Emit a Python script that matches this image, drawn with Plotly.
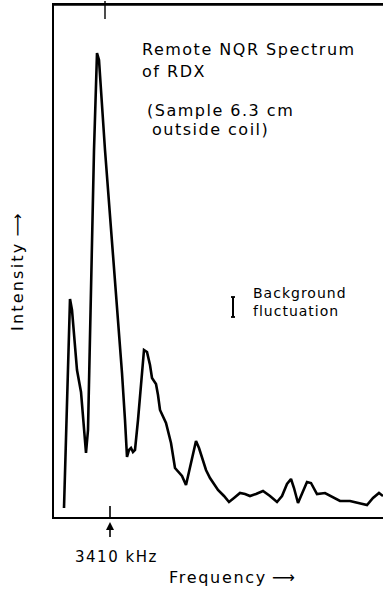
import plotly.graph_objects as go

# Readings from the trace (frequency: relative units, intensity: relative units)
freq = [10, 16, 18, 23, 27, 30, 32, 34, 37, 40, 43, 45, 51, 56, 62, 68, 71, 73, 75, 77, 79, 81,
        84, 87, 90, 93, 96, 98, 102, 104, 106, 112, 117, 121, 125, 128, 132, 137, 142, 145, 148,
        152, 156, 164, 170, 175, 180, 186, 191, 196, 202, 209, 216, 223, 228, 233, 237, 240, 244,
        248, 253, 257, 260, 263, 271, 279, 286, 296, 306, 313, 319, 325, 329]
intensity = [9, 218, 207, 147, 125, 92, 64, 87, 232, 367, 464, 457, 367, 302, 227, 144, 97, 60,
             67, 69, 65, 67, 97, 137, 167, 165, 152, 139, 133, 122, 107, 94, 74, 49, 45, 41, 32,
             54, 76, 69, 60, 47, 39, 27, 21, 15, 19, 24, 23, 21, 23, 26, 21, 15, 21, 33, 38, 29,
             14, 23, 35, 34, 29, 23, 24, 20, 16, 16, 14, 12, 19, 24, 21]

marker_freq = 56          # position marked "3410 kHz"
top_tick_freq = 51
bar_freq = 179            # background fluctuation bar
bar_low, bar_high = 200, 220

FONT = "DejaVu Sans"

fig = go.Figure()
fig.add_trace(go.Scatter(x=freq, y=intensity, mode="lines",
                         line=dict(color="black", width=2.6), showlegend=False,
                         hoverinfo="skip"))

shapes = [
    dict(type="line", xref="paper", yref="paper", x0=0, x1=1, y0=1, y1=1,
         line=dict(color="black", width=1.6)),
    dict(type="line", xref="x", yref="y", x0=marker_freq, x1=marker_freq, y0=0, y1=11,
         line=dict(color="black", width=1.6)),
    dict(type="line", xref="x", yref="paper", x0=top_tick_freq, x1=top_tick_freq,
         y0=498 / 512, y1=1.008, line=dict(color="black", width=1.4)),
    dict(type="line", xref="x", yref="paper", x0=marker_freq, x1=marker_freq,
         y0=-8 / 512, y1=-20 / 512, line=dict(color="black", width=1.6)),
    dict(type="line", xref="x", yref="y", x0=bar_freq, x1=bar_freq, y0=bar_low, y1=bar_high,
         line=dict(color="black", width=2)),
    dict(type="line", xref="x", yref="y", x0=bar_freq - 2, x1=bar_freq + 2, y0=bar_low, y1=bar_low,
         line=dict(color="black", width=1.8)),
    dict(type="line", xref="x", yref="y", x0=bar_freq - 2, x1=bar_freq + 2, y0=bar_high, y1=bar_high,
         line=dict(color="black", width=1.8)),
]

def sp(t, s):
    return f'<span style="letter-spacing:{s}px">{t}</span>'

ann = [
    dict(x=86, y=468, text=sp("Remote NQR Spectrum", 1.5), xanchor="left", yanchor="middle",
         font=dict(size=16)),
    dict(x=86, y=446, text=sp("of RDX", 1.5), xanchor="left", yanchor="middle",
         font=dict(size=16)),
    dict(x=91, y=407, text=sp("(Sample 6.3 cm", 1.5), xanchor="left", yanchor="middle",
         font=dict(size=16)),
    dict(x=96, y=388, text=sp("outside coil)", 1.5), xanchor="left", yanchor="middle",
         font=dict(size=16)),
    dict(x=197, y=224, text=sp("Background", 1), xanchor="left", yanchor="middle",
         font=dict(size=14)),
    dict(x=197, y=206, text=sp("fluctuation", 1), xanchor="left", yanchor="middle",
         font=dict(size=14)),
]
for a in ann:
    a.setdefault("showarrow", False)
    a["xref"] = "x"
    a["yref"] = "y"
    f = a.get("font", {})
    f.update(family=FONT, color="black")
    a["font"] = f

ann += [
    dict(xref="x", yref="paper", x=marker_freq, y=-5 / 512, text=" ", showarrow=True,
         ax=0, ay=16, arrowhead=2, arrowsize=1, arrowwidth=1.6, arrowcolor="black",
         standoff=0),
    dict(xref="paper", yref="paper", x=(116 - 54) / 329, y=-(557 - 517) / 512,
         text=sp("3410 kHz", 1.5), showarrow=False, xanchor="center", yanchor="middle",
         font=dict(family=FONT, size=15, color="black")),
    dict(xref="paper", yref="paper", x=(232 - 54) / 329, y=-(577 - 517) / 512,
         text=sp("Frequency", 1.7) + " ⟶", showarrow=False, xanchor="center", yanchor="middle",
         font=dict(family=FONT, size=16, color="black")),
    dict(xref="paper", yref="paper", x=-(54 - 17) / 329, y=(517 - 272) / 512,
         text=sp("Intensity", 2.2) + " ⟶", showarrow=False, textangle=-90,
         xanchor="center", yanchor="middle",
         font=dict(family=FONT, size=16, color="black")),
]

fig.update_layout(
    width=383, height=593,
    margin=dict(l=54, r=0, t=5, b=76),
    paper_bgcolor="white", plot_bgcolor="white",
    shapes=shapes, annotations=ann,
    xaxis=dict(range=[0, 329], showgrid=False, zeroline=False, showticklabels=False,
               ticks="", showline=True, linecolor="black", linewidth=2, mirror=True,
               fixedrange=True),
    yaxis=dict(range=[0, 512], showgrid=False, zeroline=False, showticklabels=False,
               ticks="", showline=True, linecolor="black", linewidth=1.6, mirror=False,
               fixedrange=True),
)

fig.write_html("out.html", config={"displayModeBar": False},
               post_script="document.body.style.margin='0';document.body.style.overflow='hidden';")
